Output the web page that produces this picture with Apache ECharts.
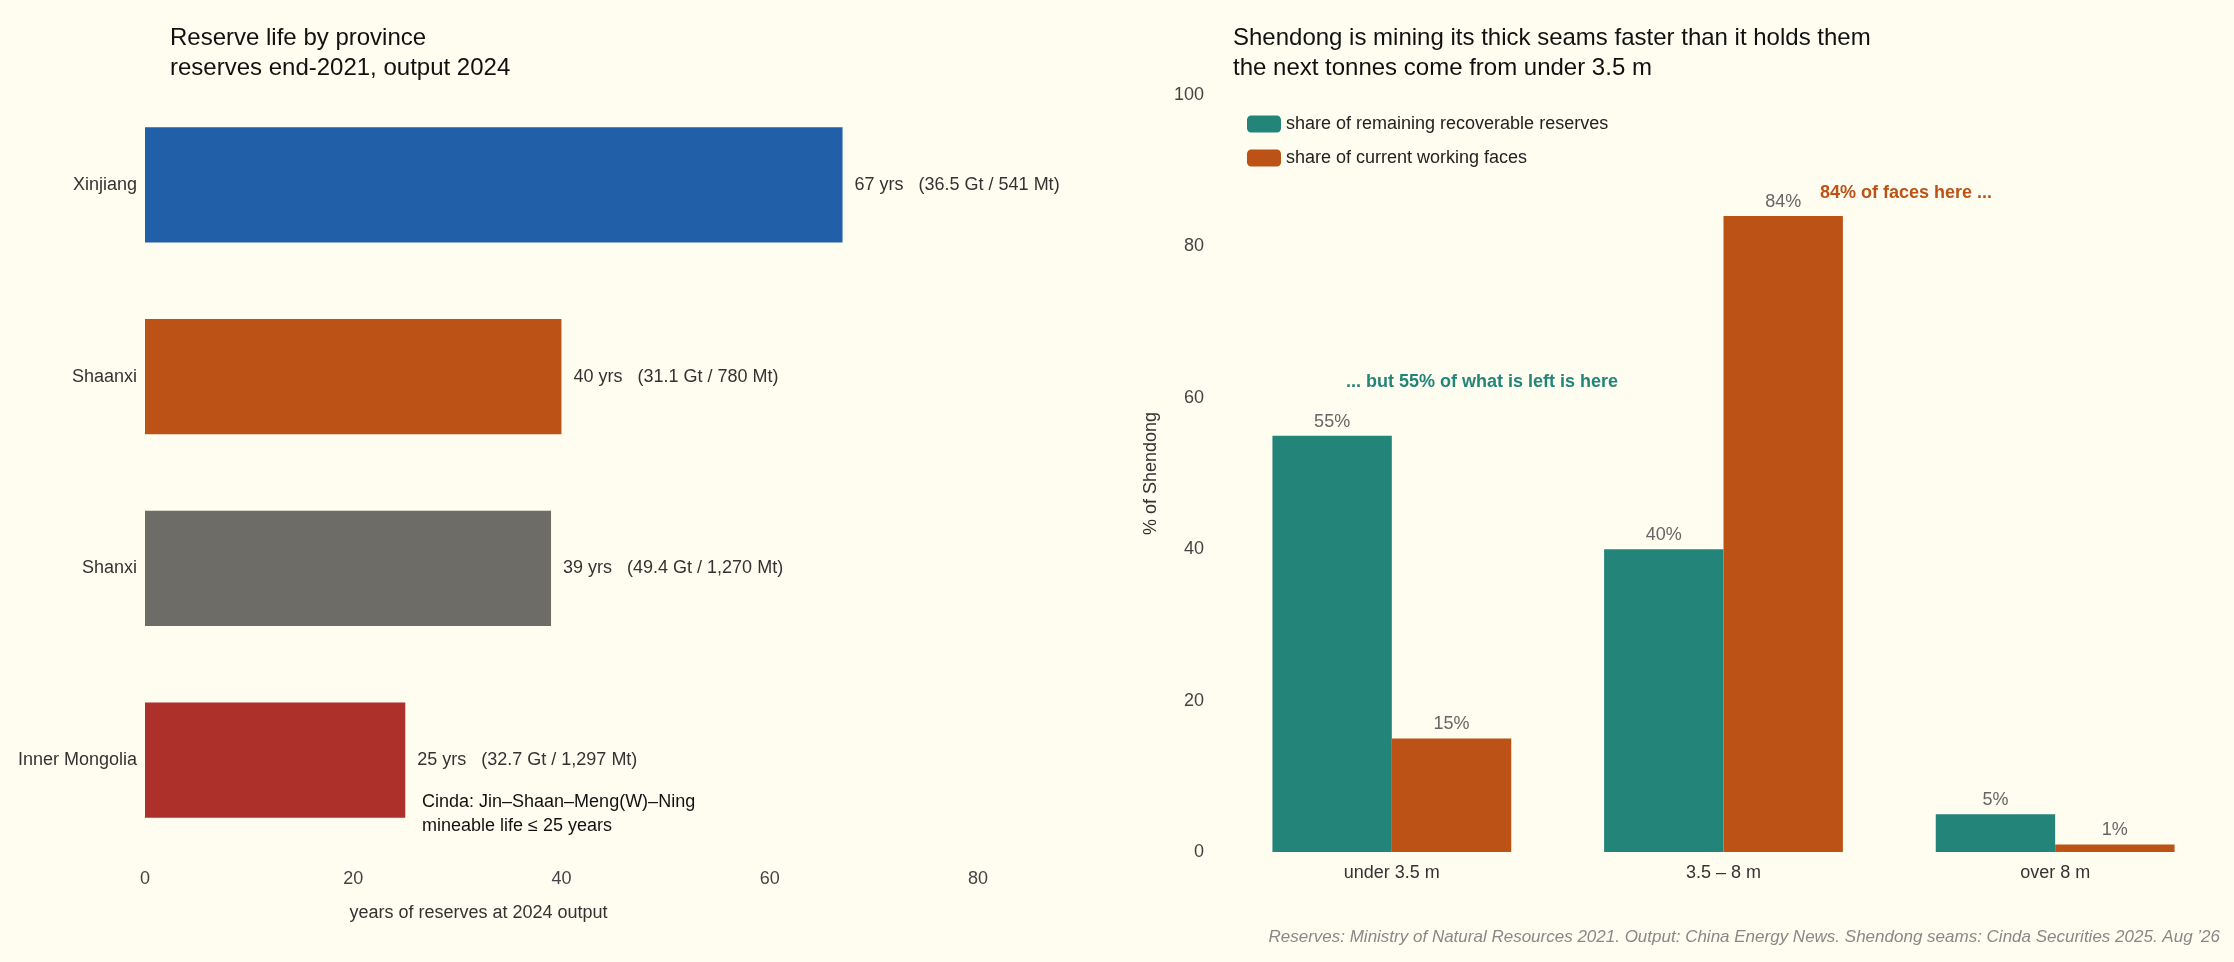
<!DOCTYPE html>
<html><head><meta charset="utf-8">
<script src="https://cdn.jsdelivr.net/npm/echarts@6/dist/echarts.min.js"></script>
<style>html,body{margin:0;background:#FFFDF0}#c{width:2234px;height:962px}</style>
</head><body><div id="c"></div>
<script>
// left panel: reserve life
var provinces = ['Inner Mongolia', 'Shanxi', 'Shaanxi', 'Xinjiang'];
var lifeYears = [25, 39, 40, 67];
var lifeNotes = ['(32.7 Gt / 1,297 Mt)', '(49.4 Gt / 1,270 Mt)', '(31.1 Gt / 780 Mt)', '(36.5 Gt / 541 Mt)'];
var provColors = ['#AE302B', '#6E6C66', '#BD5216', '#2160A8'];
// right panel: seam thickness shares
var seams = ['under 3.5 m', '3.5 – 8 m', 'over 8 m'];
var reserveShare = [55, 40, 5];
var faceShare = [15, 84, 1];

var font = 'Liberation Sans, Arial, sans-serif';
var chart = echarts.init(document.getElementById('c'));
chart.setOption({
    backgroundColor: '#FFFDF0',
    textStyle: {fontFamily: font},
    title: [
        {text: 'Reserve life by province\nreserves end-2021, output 2024', left: 165, top: 18,
         textStyle: {fontSize: 24, fontWeight: 'normal', color: '#111', lineHeight: 30, fontFamily: font}},
        {text: 'Shendong is mining its thick seams faster than it holds them\nthe next tonnes come from under 3.5 m', left: 1228, top: 18,
         textStyle: {fontSize: 24, fontWeight: 'normal', color: '#111', lineHeight: 30, fontFamily: font}}
    ],
    legend: {
        data: ['share of remaining recoverable reserves', 'share of current working faces'],
        orient: 'vertical', left: 1242, top: 110, itemWidth: 34, itemHeight: 17, itemGap: 16,
        textStyle: {fontSize: 18, color: '#222'}
    },
    grid: [
        {left: 145, width: 937, top: 89, height: 767},
        {left: 1226, width: 995, top: 95, height: 757}
    ],
    xAxis: [
        {gridIndex: 0, type: 'value', min: 0, max: 90, interval: 20,
         axisLabel: {fontSize: 18, color: '#444', margin: 14, formatter: function (v) { return v > 80 ? '' : v; }},
         splitLine: {show: false}, axisLine: {show: false}, axisTick: {show: false},
         name: 'years of reserves at 2024 output', nameLocation: 'middle', nameGap: 48,
         nameTextStyle: {fontSize: 18, color: '#333', padding: [0, 270, 0, 0]}},
        {gridIndex: 1, type: 'category', data: seams,
         axisLabel: {fontSize: 18, color: '#333', margin: 12},
         axisLine: {show: false}, axisTick: {show: false}}
    ],
    yAxis: [
        {gridIndex: 0, type: 'category', data: provinces,
         axisLabel: {fontSize: 18, color: '#333', margin: 8},
         axisLine: {show: false}, axisTick: {show: false}},
        {gridIndex: 1, type: 'value', min: 0, max: 100, interval: 20,
         axisLabel: {fontSize: 18, color: '#444', margin: 22},
         splitLine: {show: false}, axisLine: {show: false}, axisTick: {show: false},
         name: '% of Shendong', nameLocation: 'middle', nameGap: 66, nameRotate: 90,
         nameTextStyle: {fontSize: 18, color: '#333'}}
    ],
    series: [
        {type: 'bar', xAxisIndex: 0, yAxisIndex: 0, barWidth: '60%',
         data: lifeYears.map(function (v, i) { return {value: v, itemStyle: {color: provColors[i]}}; }),
         label: {show: true, position: 'right', distance: 12, fontSize: 18, color: '#333',
                 formatter: function (p) { return p.value + ' yrs   ' + lifeNotes[p.dataIndex]; }},
         markLine: {silent: true, symbol: 'none', label: {show: false},
                    lineStyle: {type: [8, 5], color: '#111', width: 2},
                    data: [[{coord: [25, -0.53]}, {coord: [25, 3.5]}]]}},
        {name: 'share of remaining recoverable reserves', type: 'bar', xAxisIndex: 1, yAxisIndex: 1,
         data: reserveShare, itemStyle: {color: '#23857A'}, barGap: 0, barCategoryGap: '28%',
         label: {show: true, position: 'top', fontSize: 18, color: '#666', formatter: '{c}%'}},
        {name: 'share of current working faces', type: 'bar', xAxisIndex: 1, yAxisIndex: 1,
         data: faceShare, itemStyle: {color: '#BD5216'},
         label: {show: true, position: 'top', fontSize: 18, color: '#666', formatter: '{c}%'}}
    ],
    graphic: [
        {type: 'text', left: 422, top: 790, style: {text: 'Cinda: Jin–Shaan–Meng(W)–Ning\nmineable life ≤ 25 years',
            fontSize: 18, lineHeight: 24, fill: '#111', fontFamily: font}},
        {type: 'text', left: 1820, top: 184, style: {text: '84% of faces here ...', fontSize: 18,
            fontWeight: 'bold', fill: '#BD5216', fontFamily: font}},
        {type: 'text', left: 1346, top: 373, style: {text: '... but 55% of what is left is here', fontSize: 18,
            fontWeight: 'bold', fill: '#23857A', fontFamily: font}},
        {type: 'text', right: 14, top: 929, style: {text: 'Reserves: Ministry of Natural Resources 2021. Output: China Energy News. Shendong seams: Cinda Securities 2025. Aug \u201926',
            fontSize: 17, fontStyle: 'italic', fill: '#888', fontFamily: font}}
    ]
});
</script></body></html>
